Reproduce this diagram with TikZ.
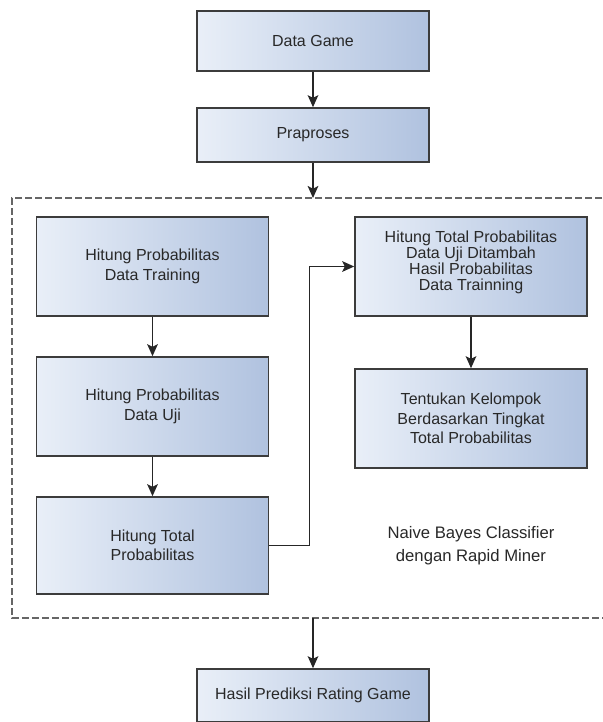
\documentclass[tikz,border=0pt]{standalone}
\usepackage{fontspec}
\setmainfont{Liberation Sans}
\usetikzlibrary{arrows.meta,calc,positioning}
\definecolor{boxleft}{RGB}{233,239,248}
\definecolor{boxright}{RGB}{176,194,223}
\definecolor{boxline}{RGB}{60,60,60}
\definecolor{txtgray}{RGB}{40,40,40}

\begin{document}
\begin{tikzpicture}[%
  x=0.75pt,y=-0.75pt,
  proc/.style={rectangle,draw=boxline,line width=1.2pt,left color=boxleft,right color=boxright,
    minimum width=174pt,align=center,text=txtgray,font=\fontsize{12}{14.5}\selectfont,inner sep=2pt},
  flow/.style={draw=black!85,line width=1.1pt,-{Stealth[length=9pt,width=8pt,inset=2pt]}},
  group/.style={draw=black!60,line width=1.2pt,dash pattern=on 5pt off 2.5pt}]
  \useasboundingbox (0,0) rectangle (603,722);
  % input and preprocessing
  \node[proc,minimum height=45pt] (game) at (313,41) {Data Game};
  \node[proc,minimum height=40.5pt] (prep) at (313,135) {Praproses};
  % naive bayes group
  \coordinate (nbin) at (313,198);
  \coordinate (nbout) at (313,618);
  \draw[group] (612,198) -- (12,198) -- (12,618) -- (612,618);
  \node[proc,minimum height=74.25pt] (ptrain) at (152.5,266.5) {Hitung Probabilitas\\Data Training};
  \node[proc,minimum height=74.25pt] (puji) at (152.5,406.5) {Hitung Probabilitas\\Data Uji};
  \node[proc,minimum height=72.75pt] (ptotal) at (152.5,545.5) {Hitung Total\\Probabilitas};
  \node[proc,minimum height=74.25pt,font=\fontsize{12}{12}\selectfont,text depth=8pt] (psum) at (471,266.5)
    {Hitung Total Probabilitas\\Data Uji Ditambah\\Hasil Probabilitas\\Data Trainning};
  \node[proc,minimum height=74.25pt] (group) at (471,418.5)
    {Tentukan Kelompok\\Berdasarkan Tingkat\\Total Probabilitas};
  \node[align=center,text=txtgray,font=\fontsize{12.5}{17}\selectfont] (nblabel) at (471,546)
    {Naive Bayes Classifier\\dengan Rapid Miner};
  % output
  \node[proc,minimum height=39.75pt] (hasil) at (313,695.5) {Hasil Prediksi Rating Game};
  % connectors
  \draw[flow] (game) -- (prep);
  \draw[flow] (prep) -- (nbin);
  \draw[flow] (ptrain) -- (puji);
  \draw[flow] (puji) -- (ptotal);
  \draw[flow] (ptotal.east) -- ++(40,0) |- (psum.west);
  \draw[flow] (psum) -- (group);
  \draw[flow] (nbout) -- (hasil);
\end{tikzpicture}
\end{document}
